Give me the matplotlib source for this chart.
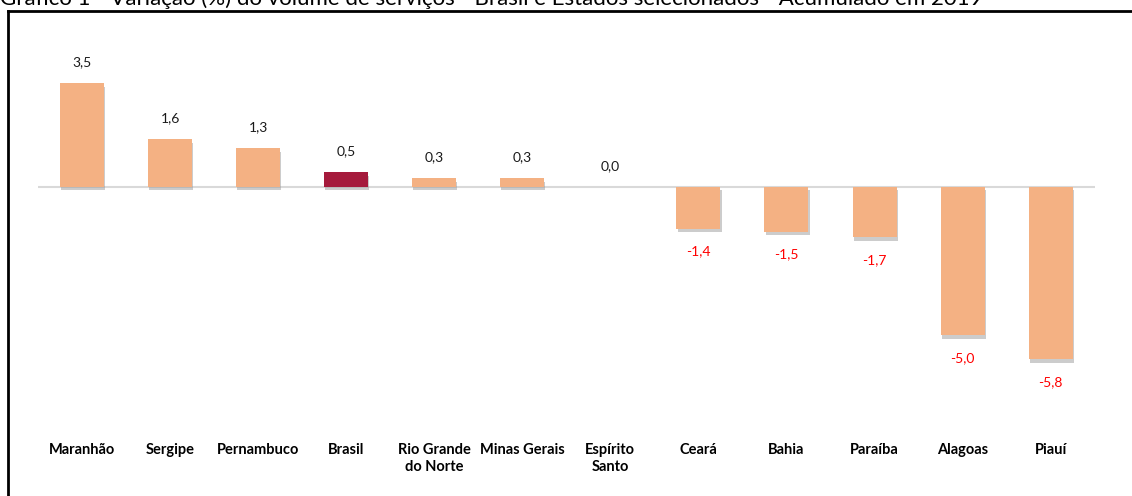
import matplotlib
matplotlib.use("Agg")
import matplotlib.pyplot as plt
import matplotlib.patheffects as pe
from matplotlib.lines import Line2D
import numpy as np

# data
estados = ["Maranhão", "Sergipe", "Pernambuco", "Brasil", "Rio Grande\ndo Norte",
           "Minas Gerais", "Espírito\nSanto", "Ceará", "Bahia", "Paraíba",
           "Alagoas", "Piauí"]
variacao = [3.5, 1.6, 1.3, 0.5, 0.3, 0.3, 0.0, -1.4, -1.5, -1.7, -5.0, -5.8]
destaque = "Brasil"

titulo = ("Gráfico 1 - Variação (%) do volume de serviços - Brasil e Estados "
          "selecionados - Acumulado em 2019")

cor_barra = "#F4B183"
cor_destaque = "#A51A3C"

plt.rcParams["font.family"] = ["Lato", "DejaVu Sans"]

fig = plt.figure(figsize=(11.32, 4.96), dpi=100)
ax = fig.add_axes([0.0336, 0.153, 0.9334, 0.746])

x = np.arange(len(estados))
cores = [cor_destaque if e == destaque else cor_barra for e in estados]
sombra = [pe.SimplePatchShadow(offset=(0.8, -2.5), shadow_rgbFace="#9a9a9a", alpha=0.5),
          pe.Normal()]
bars = ax.bar(x, variacao, width=0.5, color=cores, zorder=3)
for b, v in zip(bars, variacao):
    if v != 0:
        b.set_path_effects(sombra)

ax.axhline(0, color="#d9d9d9", lw=1.5, zorder=2)

for xi, v in zip(x, variacao):
    txt = f"{v:.1f}".replace(".", ",")
    if v >= 0:
        ax.annotate(txt, (xi, v), xytext=(0, 15), textcoords="offset points",
                    ha="center", va="center", fontsize=10, color="#1a1a1a")
    else:
        ax.annotate(txt, (xi, v), xytext=(0, -16.5), textcoords="offset points",
                    ha="center", va="center", fontsize=10, color="#ff0000")

ax.set_xlim(-0.5, len(estados) - 0.5)
ax.set_ylim(-7.85, 4.61)
ax.set_xticks(x)
ax.set_xticklabels(estados, fontsize=10.5, fontweight="bold", linespacing=1.3)
ax.tick_params(axis="x", length=0, pad=16.5)
ax.set_yticks([])
for s in ax.spines.values():
    s.set_visible(False)

# frame around the chart (right and bottom edges fall outside the picture)
fig.add_artist(Line2D([8 / 1132, 1.0], [1 - 11 / 496] * 2, color="black", lw=2))
fig.add_artist(Line2D([8 / 1132] * 2, [0.0, 1 - 11 / 496], color="black", lw=2))

# title cut off at the top edge, as in the reference
fig.text(0.0, 1 - 5 / 496, titulo, fontsize=16, ha="left", va="baseline", color="black")

fig.savefig("out.png", dpi=100)
